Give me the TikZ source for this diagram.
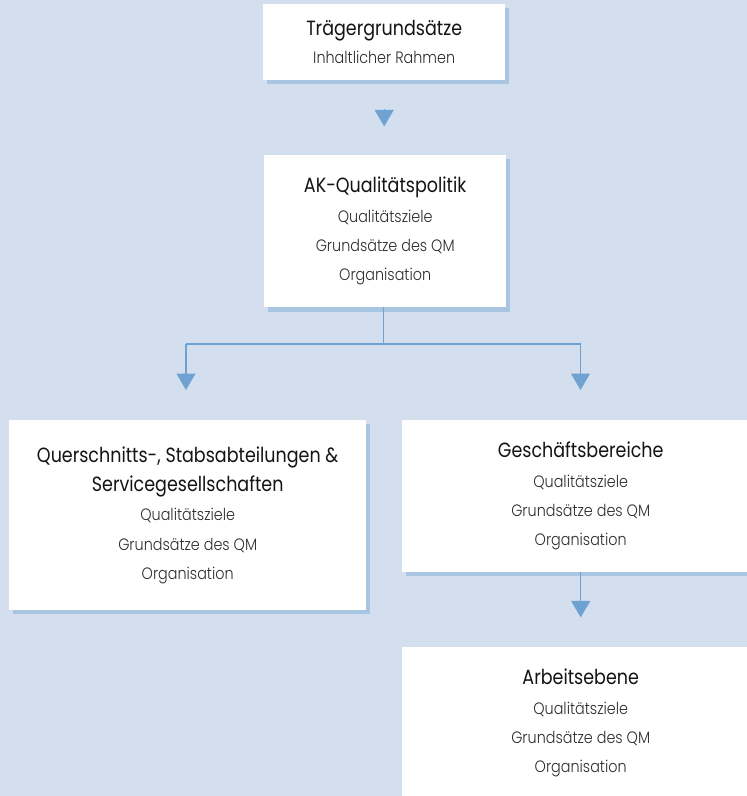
\documentclass[tikz,border=0pt]{standalone}
\usepackage{fontspec}
\setmainfont{Poppins}[FakeStretch=0.85]
\newfontfamily\lightfont{Poppins Light}[FakeStretch=0.87]
\usetikzlibrary{arrows.meta,calc}
\definecolor{bgc}{RGB}{211,223,239}
\definecolor{shadowc}{RGB}{168,197,226}
\definecolor{arrowc}{RGB}{111,162,208}
\definecolor{titlec}{RGB}{20,20,20}
\definecolor{subc}{RGB}{45,45,45}
\newcommand{\ttl}[1]{{\color{titlec}\fontsize{20.6}{29.3}\selectfont #1}}
\newcommand{\sbt}[1]{{\color{subc}\lightfont\fontsize{16.5}{29.3}\selectfont #1}}
\tikzset{
  box/.style={fill=white, inner sep=0pt, align=center, anchor=north west,
    font=\fontsize{16.5}{29.3}\selectfont},
  arr/.style={draw=arrowc, line width=1.2pt, -{Triangle[width=19pt,length=16.5pt]}, arrowc},
  conn/.style={draw=arrowc, line width=1.2pt}
}
\begin{document}
\begin{tikzpicture}[x=1pt,y=-1pt]
\useasboundingbox (0,0) rectangle (747,796);
\clip (0,0) rectangle (747,796);
\fill[bgc] (0,0) rectangle (747,796);
% shadows
\fill[shadowc] (267,8) rectangle (509,83.5);
\fill[shadowc] (268,159) rectangle (510,311.5);
\fill[shadowc] (13,424) rectangle (370,614);
\fill[shadowc] (406,424) rectangle (763,576);
\fill[shadowc] (406,651) rectangle (763,803);
% boxes
\node[box, minimum width=242pt, minimum height=76pt] (b1) at (263,4)
  {\ttl{Trägergrundsätze}\\[-1pt]\sbt{Inhaltlicher Rahmen}};
\node[box, minimum width=242pt, minimum height=152pt] (b2) at (264,155)
  {\ttl{AK-Qualitätspolitik}\\\sbt{Qualitätsziele}\\\sbt{Grundsätze des QM}\\\sbt{Organisation}};
\node[box, minimum width=357pt, minimum height=190pt] (b3) at (9,420)
  {\ttl{Querschnitts-, Stabsabteilungen \&}\\\ttl{Servicegesellschaften}\\\sbt{Qualitätsziele}\\\sbt{Grundsätze des QM}\\\sbt{Organisation}};
\node[box, minimum width=357pt, minimum height=152pt] (b4) at (402,420)
  {\ttl{Geschäftsbereiche}\\\sbt{Qualitätsziele}\\\sbt{Grundsätze des QM}\\\sbt{Organisation}};
\node[box, minimum width=357pt, minimum height=152pt] (b5) at (402,647)
  {\ttl{Arbeitsebene}\\\sbt{Qualitätsziele}\\\sbt{Grundsätze des QM}\\\sbt{Organisation}};
% connectors
\coordinate (a1s) at ($(b1.south)+(0,29)$);
\coordinate (a1e) at ($(b1.south)+(0,46)$);
\draw[arr] (a1s) -- (a1e);
\coordinate (j) at ($(b2.south)+(-1.5,37)$);
\coordinate (jl) at (186,344);
\coordinate (jr) at (580.5,344);
\draw[conn] ($(b2.south)+(-1.5,0)$) -- (j);
\draw[conn] (jl) -- (jr);
\draw[arr] (jl) -- (186,390);
\draw[arr] (jr) -- (580.5,390);
\draw[arr] (b4.south) -- ($(b4.south)+(0,45)$);
\end{tikzpicture}
\end{document}
